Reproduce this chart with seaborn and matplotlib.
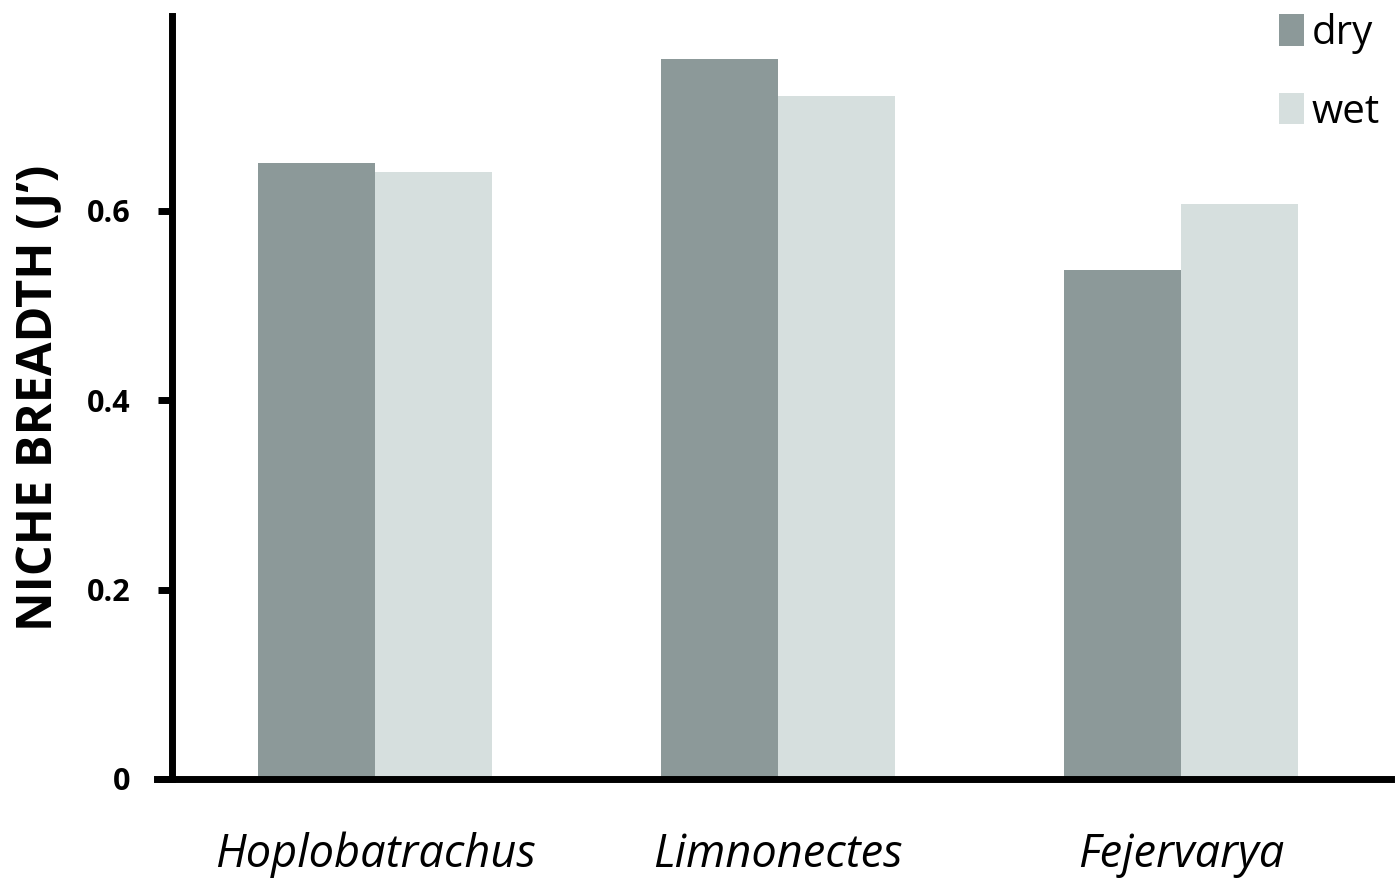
import pandas as pd
import numpy as np
import seaborn as sns
import matplotlib.pyplot as plt

# niche breadth values
genera = ["Hoplobatrachus", "Limnonectes", "Fejervarya"]
dry = [0.651, 0.760, 0.537]
wet = [0.641, 0.721, 0.607]
seasons = ["dry", "wet"]
yticks = [0, 0.2, 0.4, 0.6]
ytick_labels = ["0", "0.2", "0.4", "0.6"]

df = pd.DataFrame({
    "genus": genera * 2,
    "season": ["dry"] * 3 + ["wet"] * 3,
    "J": dry + wet,
})

sns.set_style("white")
plt.rcParams["font.family"] = ["Open Sans", "DejaVu Sans"]
plt.rcParams["text.color"] = "black"
plt.rcParams["axes.labelcolor"] = "black"
plt.rcParams["xtick.color"] = "black"
plt.rcParams["ytick.color"] = "black"

fig = plt.figure(figsize=(13.95, 8.82), dpi=100)
ax = fig.add_axes([157 / 1395, 1 - 779 / 882, 1234 / 1395, 763 / 882])

sns.barplot(data=df, x="genus", y="J", hue="season", order=genera,
            hue_order=seasons, palette=["#8c9999", "#d6dfde"],
            saturation=1, width=0.58, linewidth=0, ax=ax)

ax.set_xlim(-0.541, 2.521)
ax.set_ylim(0, 763 / 947)

for s in ["top", "right"]:
    ax.spines[s].set_visible(False)
ax.spines["left"].set_position(("axes", 15 / 1234))
ax.spines["left"].set_linewidth(5)
ax.spines["bottom"].set_linewidth(5)
ax.spines["left"].set_color("black")
ax.spines["bottom"].set_color("black")

ax.set_yticks(yticks)
ax.set_yticklabels(ytick_labels, fontsize=22, fontweight="bold")
ax.tick_params(axis="y", left=True, length=10, width=5, pad=20)
ax.tick_params(axis="x", bottom=False, length=0, pad=38)
for t in ax.get_xticklabels():
    t.set_fontsize(32.5)
    t.set_fontstyle("italic")

ax.set_xlabel("")
ax.set_ylabel("NICHE BREADTH (J\u2019)", fontsize=35, fontweight="bold", labelpad=16)

leg = ax.legend(loc="upper right", bbox_to_anchor=(1.004, 1.025), frameon=False,
                fontsize=29, handlelength=0.6, handleheight=0.82,
                handletextpad=0.2, labelspacing=0.95, borderaxespad=0)

fig.savefig("out.png", dpi=100)
